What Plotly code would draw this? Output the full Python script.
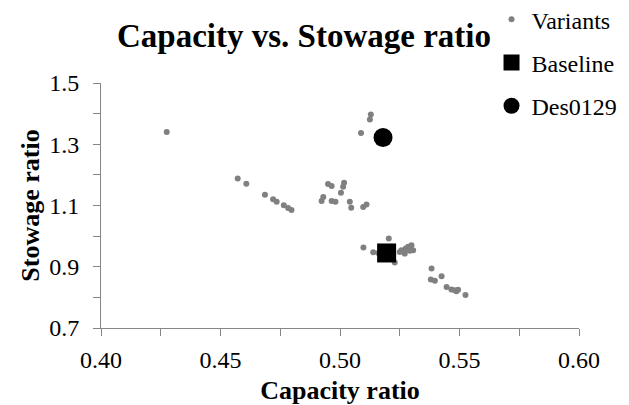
import plotly.graph_objects as go

# Variants (capacity ratio, stowage ratio)
variant_x = [0.4275, 0.5129, 0.5125, 0.5088, 0.4572, 0.4608, 0.4686, 0.4720, 0.4735,
             0.4765, 0.4783, 0.4797, 0.4950, 0.4965, 0.5017, 0.5013, 0.5004, 0.4930,
             0.4923, 0.4965, 0.4981, 0.5041, 0.5047, 0.5097, 0.5111, 0.5204, 0.5098,
             0.5139, 0.5229, 0.5160, 0.5220, 0.5257, 0.5271, 0.5285, 0.5299, 0.5306,
             0.5292, 0.5250, 0.5275, 0.5383, 0.5380, 0.5397, 0.5425, 0.5446, 0.5466,
             0.5480, 0.5494, 0.5487, 0.5525]
variant_y = [1.340, 1.397, 1.381, 1.337, 1.188, 1.171, 1.135, 1.120, 1.112,
             1.101, 1.092, 1.085, 1.170, 1.164, 1.174, 1.161, 1.142, 1.128,
             1.115, 1.115, 1.112, 1.112, 1.093, 1.095, 1.103, 0.992, 0.963,
             0.947, 0.914, 0.945, 0.950, 0.954, 0.943, 0.965, 0.970, 0.954,
             0.952, 0.948, 0.960, 0.894, 0.858, 0.854, 0.869, 0.834, 0.826,
             0.823, 0.825, 0.820, 0.808]

baseline_x = [0.5195]
baseline_y = [0.945]

des_x = [0.5180]
des_y = [1.322]

x_ticks = [0.40, 0.45, 0.50, 0.55, 0.60]
y_ticks = [0.7, 0.9, 1.1, 1.3, 1.5]

FONT = "Times New Roman, Liberation Serif, DejaVu Serif, serif"
AXIS_COLOR = "#868686"

# the page body adds an 8px offset; the figure is sized to fit the window
W, H = 621, 397

fig = go.Figure()
fig.add_trace(go.Scatter(x=variant_x, y=variant_y, mode="markers", name="Variants",
                         legendgroup="a",
                         marker=dict(symbol="circle", size=6, color="#808080")))
fig.add_trace(go.Scatter(x=baseline_x, y=baseline_y, mode="markers", name="Baseline",
                         legendgroup="b",
                         marker=dict(symbol="square", size=19, color="black")))
fig.add_trace(go.Scatter(x=des_x, y=des_y, mode="markers", name="Des0129",
                         legendgroup="c",
                         marker=dict(symbol="circle", size=19, color="black")))

fig.update_layout(
    width=W, height=H,
    margin=dict(l=93, r=50, t=75, b=77, autoexpand=False),
    paper_bgcolor="white", plot_bgcolor="white",
    font=dict(family=FONT, size=24, color="black"),
    title=dict(text="Capacity vs. Stowage ratio", x=296 / W, xanchor="center",
               y=1 - 27 / H, yanchor="middle", xref="container", yref="container",
               font=dict(family=FONT, size=33, weight="bold", color="black")),
    legend=dict(x=0.817, y=1.35, xanchor="left", yanchor="top",
                font=dict(family=FONT, size=24, color="black"),
                tracegroupgap=9, itemsizing="trace", bgcolor="rgba(0,0,0,0)"),
    showlegend=True,
)

fig.update_xaxes(
    range=[0.40, 0.60], tickvals=x_ticks, tickformat=".2f",
    showline=True, linecolor=AXIS_COLOR, linewidth=1,
    ticks="outside", ticklen=7, tickcolor=AXIS_COLOR,
    minor=dict(dtick=0.025, tick0=0.40, ticks="outside", ticklen=7, tickcolor=AXIS_COLOR, showgrid=False),
    showgrid=False, zeroline=False, ticklabelstandoff=3,
    title=dict(text="Capacity ratio", standoff=9,
               font=dict(family=FONT, size=26, weight="bold", color="black")),
)
fig.update_yaxes(
    range=[0.7, 1.5], tickvals=y_ticks, tickformat=".1f",
    showline=True, linecolor=AXIS_COLOR, linewidth=1,
    ticks="outside", ticklen=7, tickcolor=AXIS_COLOR,
    minor=dict(dtick=0.1, tick0=0.7, ticks="outside", ticklen=7, tickcolor=AXIS_COLOR, showgrid=False),
    showgrid=False, zeroline=False, ticklabelstandoff=9,
    title=dict(text="Stowage ratio", standoff=2,
               font=dict(family=FONT, size=26, weight="bold", color="black")),
)

fig.write_html("out.html")
